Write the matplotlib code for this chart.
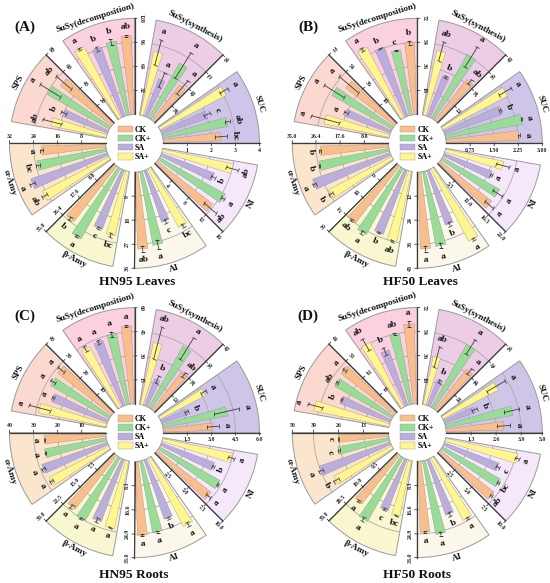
import numpy as np
import matplotlib
matplotlib.use('Agg')
import matplotlib.pyplot as plt
from matplotlib.patches import Patch

plt.rcParams['font.family'] = ['Liberation Serif', 'DejaVu Serif']
plt.rcParams['font.weight'] = 'bold'

enzymes = ['SUC', 'SuSy(synthesis)', 'SuSy(decomposition)', 'SPS', 'α-Amy', 'β-Amy', 'AI', 'NI']
treatments = ['CK', 'CK+', 'SA', 'SA+']
bar_colors = ['#F9BE8C', '#98DC98', '#BBAEDC', '#FFF68F']
sector_colors = ['#CFC5E8', '#EDCCE6', '#FBD0E0', '#FBD9D0', '#FBE5CC', '#F8F7CF', '#FBF7EA', '#F6E8FB']

# values run SUC, syn, dec, SPS, a-Amy, b-Amy, AI, NI
a_ck = [2.4, 45, 105, 54, 21.4, 25.6, 28.8, 11.7]
a_ckp = [2.76, 63, 100, 59, 23.4, 29.4, 28, 12.5]
a_sa = [2.03, 40, 97, 40, 26.9, 23, 20.5, 9.4]
a_sap = [3.1, 65, 107, 47, 25, 24, 24.8, 12]
a_ck_err = [0.25, 8.6, 1.3, 8, 0.6, 0.7, 1.1, 1.3]
a_ckp_err = [0.1, 15, 3.8, 9.6, 0.6, 0.4, 1.8, 0.3]
a_sa_err = [0.13, 7.7, 2.6, 2.4, 1, 0.4, 0.7, 0.3]
a_sap_err = [0.2, 13, 1.3, 8, 1, 0.7, 0.7, 1]
a_ticks = [['1', '2', '3', '4'], ['24', '48', '72', '96'], ['32', '64', '96', '128'], ['20', '40', '60', '80'],
           ['8', '16', '24', '32'], ['8.8', '17.6', '26.4', '35.0'], ['9', '18', '27', '36'], ['4', '8', '12', '16']]
a_letters = [['bc', 'ab', 'c', 'a'], ['a', 'a', 'a', 'a'], ['ab', 'b', 'b', 'a'], ['ab', 'a', 'b', 'ab'],
             ['a', 'bc', 'a', 'ab'], ['b', 'a', 'c', 'bc'], ['ab', 'a', 'c', 'bc'], ['ab', 'a', 'b', 'ab']]

b_ck = [2.28, 25.9, 54, 46, 24.9, 27, 38.4, 15]
b_ckp = [2.43, 36.5, 49.7, 51.8, 25.9, 28.4, 37.9, 15]
b_sa = [1.89, 21.6, 54.7, 36.7, 29.8, 25.6, 28.8, 11.7]
b_sap = [2.28, 33, 59.8, 49.7, 25.9, 27, 40.8, 13.6]
b_ck_err = [0.03, 1.4, 1.4, 9.4, 0.35, 0.36, 1.4, 1.3]
b_ckp_err = [0.01, 5.8, 0.2, 8.6, 0.2, 0.7, 1.4, 1.3]
b_sa_err = [0.03, 0.5, 0.2, 1.4, 0.7, 0.36, 1, 0.2]
b_sap_err = [0.21, 4.8, 1.4, 10.8, 0.7, 0.36, 0.5, 1.5]
b_ticks = [['0.75', '1.50', '2.25', '3.00'], ['12', '24', '36', '48'], ['18', '36', '54', '72'], ['18', '36', '54', '72'],
           ['8.8', '17.6', '26.4', '35.0'], ['9', '18', '27', '36'], ['12', '24', '36', '48'], ['5.5', '11.0', '16.5', '22.0']]
b_letters = [['a', 'a', 'b', 'a'], ['ab', 'a', 'b', 'ab'], ['b', 'c', 'b', 'a'], ['a', 'a', 'a', 'a'],
             ['b', 'b', 'a', 'b'], ['ab', 'a', 'b', 'ab'], ['a', 'a', 'b', 'a'], ['a', 'a', 'a', 'a']]

c_ck = [3.1, 23.5, 48.6, 28.4, 25.6, 21.3, 25.4, 7.1]
c_ckp = [4.1, 35, 45, 28, 26, 22.5, 25, 7.2]
c_sa = [1.7, 14.4, 43, 24.8, 28.8, 20.7, 21.5, 5.9]
c_sap = [3.2, 31.7, 42.6, 28.8, 28, 21.6, 26.4, 7.4]
c_ck_err = [0.36, 1.4, 0.6, 1.6, 0.1, 0.6, 0.3, 0.3]
c_ckp_err = [0.78, 6.2, 1.8, 1.2, 0.4, 0.3, 0.3, 0.1]
c_sa_err = [0.12, 1.9, 1.2, 0.4, 0.8, 0.6, 0.3, 0.1]
c_sap_err = [0.18, 8.2, 1.8, 4.4, 0.8, 0.1, 0.7, 0.3]
c_ticks = [['1.5', '3.0', '4.5', '6.0'], ['12', '24', '36', '48'], ['15', '30', '45', '60'], ['10', '20', '30', '40'],
           ['10', '20', '30', '40'], ['7.5', '15.0', '22.5', '30.0'], ['8.3', '16.6', '24.9', '33.0'], ['2.5', '5.0', '7.5', '10.0']]
c_letters = [['a', 'a', 'b', 'a'], ['ab', 'a', 'b', 'ab'], ['a', 'a', 'a', 'a'], ['a', 'a', 'a', 'a'],
             ['a', 'a', 'a', 'a'], ['a', 'a', 'a', 'a'], ['a', 'a', 'b', 'a'], ['a', 'a', 'b', 'a']]

d_ck = [3, 30, 59.8, 30.8, 26, 24.3, 24.4, 7.1]
d_ckp = [3.55, 42, 54, 30, 27, 28.9, 25.7, 6.9]
d_sa = [1.7, 15.7, 44, 24.6, 39, 21.7, 20.1, 6.1]
d_sap = [3.25, 28.6, 54.7, 35.2, 34, 22.4, 24.1, 7.7]
d_ck_err = [0.35, 2.2, 2.2, 0.9, 0.1, 0.4, 0.3, 0.1]
d_ckp_err = [0.4, 5, 0.7, 0.4, 0.5, 0.8, 0.7, 0.1]
d_sa_err = [0.15, 1.1, 2.9, 0.4, 1, 0.4, 0.7, 0.2]
d_sap_err = [0.55, 6.2, 5, 3.5, 1.5, 0.1, 0.3, 0.2]
d_ticks = [['1.3', '2.6', '3.9', '5.0'], ['14', '28', '42', '56'], ['18', '36', '54', '72'], ['11', '22', '33', '44'],
           ['13', '26', '39', '50'], ['9.5', '19.0', '28.5', '38.0'], ['8.3', '16.6', '24.9', '33.0'], ['2.5', '5.0', '7.5', '10.0']]
d_letters = [['a', 'a', 'b', 'a'], ['a', 'a', 'b', 'ab'], ['a', 'ab', 'b', 'ab'], ['a', 'ab', 'b', 'a'],
             ['c', 'c', 'a', 'b'], ['a', 'a', 'c', 'bc'], ['a', 'a', 'b', 'a'], ['ab', 'bc', 'c', 'a']]

W, H = 550, 583
R = 125
BAR_OFFSETS = [4.4, 13, 21.7, 30.4]


def text_rotation(deg):
    # tangent to the circle, kept upright
    return deg - 90 if deg < 180 else deg + 90


def tick_rotation(deg):
    if deg == 90:
        return -90
    if deg == 270:
        return 90
    return deg - 180 if deg > 90 and deg < 270 else deg


def draw_panel(cx, cy, values, errors, ticks, letters):
    ax = fig.add_axes([(cx - R) / W, 1 - (cy + R) / H, 2 * R / W, 2 * R / H], projection='polar')
    ax.set_ylim(0, 1)
    ax.set_rorigin(-0.3)
    ax.axis('off')
    for s, name in enumerate(enzymes):
        start = 45 * s
        top = float(ticks[s][-1])
        ax.bar(np.radians(start + 17.5), 1, width=np.radians(35), bottom=0, color=sector_colors[s],
               edgecolor='#9a9a9a', linewidth=0.7, zorder=1, clip_on=False)
        arc = np.radians(np.linspace(start, start + 35, 30))
        for t in ticks[s][:-1]:
            ax.plot(arc, [float(t) / top] * 30, color='#aaaaaa', lw=0.6, zorder=1.5)
        ax.plot([np.radians(start)] * 2, [0, 1], color='#3c3c3c', lw=0.9, zorder=3, clip_on=False)
        for t in ticks[s]:
            r = float(t) / top
            r_px = (r + 0.3) / 1.3 * R
            ax.plot([np.radians(start), np.radians(start) - 2.5 / r_px], [r, r], color='#3c3c3c', lw=0.6,
                    zorder=3, clip_on=False)
            a = np.radians(start)
            ax.annotate(t, (a, r), xytext=(5.0 * np.sin(a), -5.0 * np.cos(a)), textcoords='offset points',
                        ha='center', va='center', fontsize=4.2, rotation=tick_rotation(start),
                        color='#222222', annotation_clip=False)
        for i in range(4):
            deg = start + BAR_OFFSETS[i]
            theta = np.radians(deg)
            v = values[i][s] / top
            e = errors[i][s] / top
            ax.bar(theta, v, width=np.radians(5.6), bottom=0, color=bar_colors[i], edgecolor='#8c8c8c',
                   linewidth=0.25, zorder=2)
            ax.errorbar(theta, v, yerr=e, color='#3c3c3c', elinewidth=0.6, capsize=1.6, capthick=0.6, zorder=4)
            ax.text(theta, v + e + 0.085, letters[s][i], ha='center', va='center', fontsize=6.8,
                    rotation=text_rotation(deg), rotation_mode='anchor', color='#111111', zorder=5)
        mid = start + 17.5
        ax.text(np.radians(mid), 1.065, name, ha='center', va='center', fontsize=6.6, clip_on=False,
                rotation=text_rotation(mid), rotation_mode='anchor', color='#111111')
    handles = [Patch(facecolor=c, edgecolor='#9a9a9a', linewidth=0.3) for c in bar_colors]
    ax.legend(handles, treatments, loc='center', bbox_to_anchor=(0.5, 0.5), frameon=False, fontsize=5.8,
              handlelength=1.85, handleheight=0.9, labelspacing=0.12, handletextpad=0.3, borderpad=0, borderaxespad=0)
    return ax


fig = plt.figure(figsize=(W / 100, H / 100), dpi=100)

draw_panel(134.5, 143.3, [a_ck, a_ckp, a_sa, a_sap], [a_ck_err, a_ckp_err, a_sa_err, a_sap_err], a_ticks, a_letters)
draw_panel(417.3, 143.3, [b_ck, b_ckp, b_sa, b_sap], [b_ck_err, b_ckp_err, b_sa_err, b_sap_err], b_ticks, b_letters)
draw_panel(134.5, 432.7, [c_ck, c_ckp, c_sa, c_sap], [c_ck_err, c_ckp_err, c_sa_err, c_sap_err], c_ticks, c_letters)
draw_panel(417.3, 432.5, [d_ck, d_ckp, d_sa, d_sap], [d_ck_err, d_ckp_err, d_sa_err, d_sap_err], d_ticks, d_letters)

for label, x, y in [('(A)', 25, 27), ('(B)', 308, 27), ('(C)', 25, 316), ('(D)', 308, 316)]:
    fig.text(x / W, 1 - y / H, label, ha='center', va='center', fontsize=11, color='#111111')
for label, x, y in [('HN95 Leaves', 137, 282), ('HF50 Leaves', 420.5, 282), ('HN95 Roots', 134, 575), ('HF50 Roots', 417, 575)]:
    fig.text(x / W, 1 - y / H, label, ha='center', va='center', fontsize=9.6, color='#111111')

fig.savefig('out.png', dpi=100)
